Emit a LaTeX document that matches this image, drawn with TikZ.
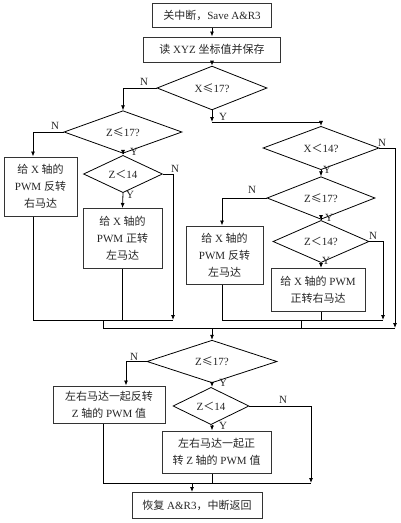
\documentclass[tikz,border=0pt]{standalone}
\usepackage{fontspec}
\setmainfont{Liberation Serif}
\newfontfamily\cjk{Noto Sans CJK SC}
\newcommand\zh[1]{{\cjk #1}}
\usetikzlibrary{shapes.geometric,arrows.meta}
\tikzset{
  box/.style={draw=black!80, line width=1pt, inner sep=1pt, align=center, text=black!85,
    font=\fontsize{11}{17}\selectfont},
  dia/.style={draw=black, diamond, inner sep=0pt, line width=0.8pt, text=black!85,
    font=\fontsize{11}{12}\selectfont},
  conn/.style={line width=0.8pt},
  arr/.style={conn, -{Latex[length=5pt,width=4pt]}},
  lab/.style={inner sep=0pt, text=black!85, font=\fontsize{11}{12}\selectfont}
}
\begin{document}
\begin{tikzpicture}[x=1pt,y=-1pt]
\useasboundingbox (0,0) rectangle (400,523);
% column coordinates
\coordinate (xa) at (33,0);
\coordinate (xb) at (222,0);
\coordinate (xd) at (126,0);
\coordinate (xe) at (103,0);
\coordinate (xf) at (192,0);
\coordinate (xm) at (212,0);
% main top
\node[box, minimum width=119pt, minimum height=24pt] (b1) at (212,15) {\zh{关中断，}Save A\&R3};
\node[box, minimum width=137pt, minimum height=25pt] (b2) at (212,49.5) {\zh{读} XYZ \zh{坐标值并保存}};
\node[dia, minimum width=110pt, minimum height=34pt] (d1) at (212,88) {X\zh{≤}17?};
% left branch
\node[dia, minimum width=118pt, minimum height=36pt] (d2) at (123,132) {Z\zh{≤}17?};
\node[box, minimum width=73pt, minimum height=59pt] (b3) at (40.5,186.5) {\zh{给} X \zh{轴的}\\PWM \zh{反转}\\\zh{右马达}};
\node[dia, minimum width=79pt, minimum height=34pt] (d3) at (123,174) {Z\zh{＜}14};
\node[box, minimum width=79pt, minimum height=60pt] (b4) at (122.5,238.5) {\zh{给} X \zh{轴的}\\PWM \zh{正转}\\\zh{左马达}};
% right branch
\node[dia, minimum width=116pt, minimum height=32pt] (d4) at (321,148) {X\zh{＜}14?};
\node[dia, minimum width=108pt, minimum height=32pt] (d5) at (321,198) {Z\zh{≤}17?};
\node[box, minimum width=77pt, minimum height=58pt] (b5) at (224.5,255) {\zh{给} X \zh{轴的}\\PWM \zh{反转}\\\zh{左马达}};
\node[dia, minimum width=96pt, minimum height=33pt] (d6) at (321,241.5) {Z\zh{＜}14?};
\node[box, minimum width=94pt, minimum height=43pt] (b6) at (318,290) {\zh{给} X \zh{轴的} PWM\\\zh{正转右马达}};
% bottom
\node[dia, minimum width=130pt, minimum height=34pt] (d7) at (212,361.5) {Z\zh{≤}17?};
\node[box, minimum width=112pt, minimum height=37pt] (b7) at (109,404.5) {\zh{左右马达一起反转}\\Z \zh{轴的} PWM \zh{值}};
\node[dia, minimum width=76pt, minimum height=32pt] (d8) at (211,406) {Z\zh{＜}14};
\node[box, minimum width=109pt, minimum height=42pt] (b8) at (216.5,452) {\zh{左右马达一起正}\\\zh{转} Z \zh{轴的} PWM \zh{值}};
\node[box, minimum width=130pt, minimum height=26pt] (b9) at (197,505.5) {\zh{恢复} A\&R3\zh{，中断返回}};
% junction coordinates
\coordinate (c1) at (212,122);
\coordinate (m1e) at (173,320);
\coordinate (m1a) at (103,320);
\coordinate (m2e) at (383,320);
\coordinate (m2a) at (301,320);
\coordinate (M) at (103,328);
\coordinate (Me) at (395,328);
\coordinate (Mc) at (212,328);
\coordinate (m3e) at (311,483);
\coordinate (m3c) at (192,483);
% connectors top
\draw[arr] (b1) -- (b2);
\draw[arr] (b2) -- (d1);
\draw[arr] (d1.west) -| (d2.north);
\draw[arr] (d1.south) -- (c1);
\draw[arr] (c1) -| (d4.north);
% left
\draw[arr] (d2.west) -| (b3.north -| xa);
\draw[arr] (d2.south) -- (d3.north);
\draw[arr] (d3.east) -| (m1e);
\draw[arr] (d3.south) -- (b4.north);
\draw[conn] (b3.south -| xa) |- (m1e);
\draw[conn] (b4.south) -- (b4.south |- m1e);
\draw[conn] (m1a) -- (M);
% right
\draw[arr] (d4.east) -| (Me);
\draw[arr] (d4.south) -- (d5.north);
\draw[arr] (d5.west) -| (b5.north -| xb);
\draw[arr] (d5.south) -- (d6.north);
\draw[arr] (d6.east) -| (m2e);
\draw[arr] (d6.south) -- (d6.south |- b6.north);
\draw[conn] (b5.south -| xb) |- (m2e);
\draw[conn] (d6.south |- b6.south) -- (d6.south |- m2e);
\draw[conn] (m2a) -- (m2a |- M);
% main merge
\draw[conn] (M) -- (Me);
\draw[arr] (Mc) -- (d7.north);
% bottom
\draw[arr] (d7.west) -| (b7.north -| xd);
\draw[arr] (d7.south) -- (d7.south |- d8.north);
\draw[arr] (d8.east) -| (m3e);
\draw[arr] (d8.south -| xm) -- (b8.north -| xm);
\draw[conn] (b7.south -| xe) |- (m3e);
\draw[conn] (b8.south -| xm) -- (xm |- m3e);
\draw[arr] (m3c) -- (b9.north -| xf);
% labels
\node[lab] (n1) at (144,82) {N};
\node[lab] (y1) at (223,117) {Y};
\node[lab] (n2) at (55,126) {N};
\node[lab] (y2) at (134,152) {Y};
\node[lab] (n3) at (175,169) {N};
\node[lab] (y3) at (130,195) {Y};
\node[lab] (n4) at (382,143) {N};
\node[lab] (y4) at (327,170) {Y};
\node[lab] (n5) at (252,190) {N};
\node[lab] (y5) at (329,218) {Y};
\node[lab] (n6) at (373,236) {N};
\node[lab] (y6) at (326,261) {Y};
\node[lab] (n7) at (134,357) {N};
\node[lab] (y7) at (223,383) {Y};
\node[lab] (n8) at (283,400) {N};
\node[lab] (y8) at (223,426) {Y};
\end{tikzpicture}
\end{document}
